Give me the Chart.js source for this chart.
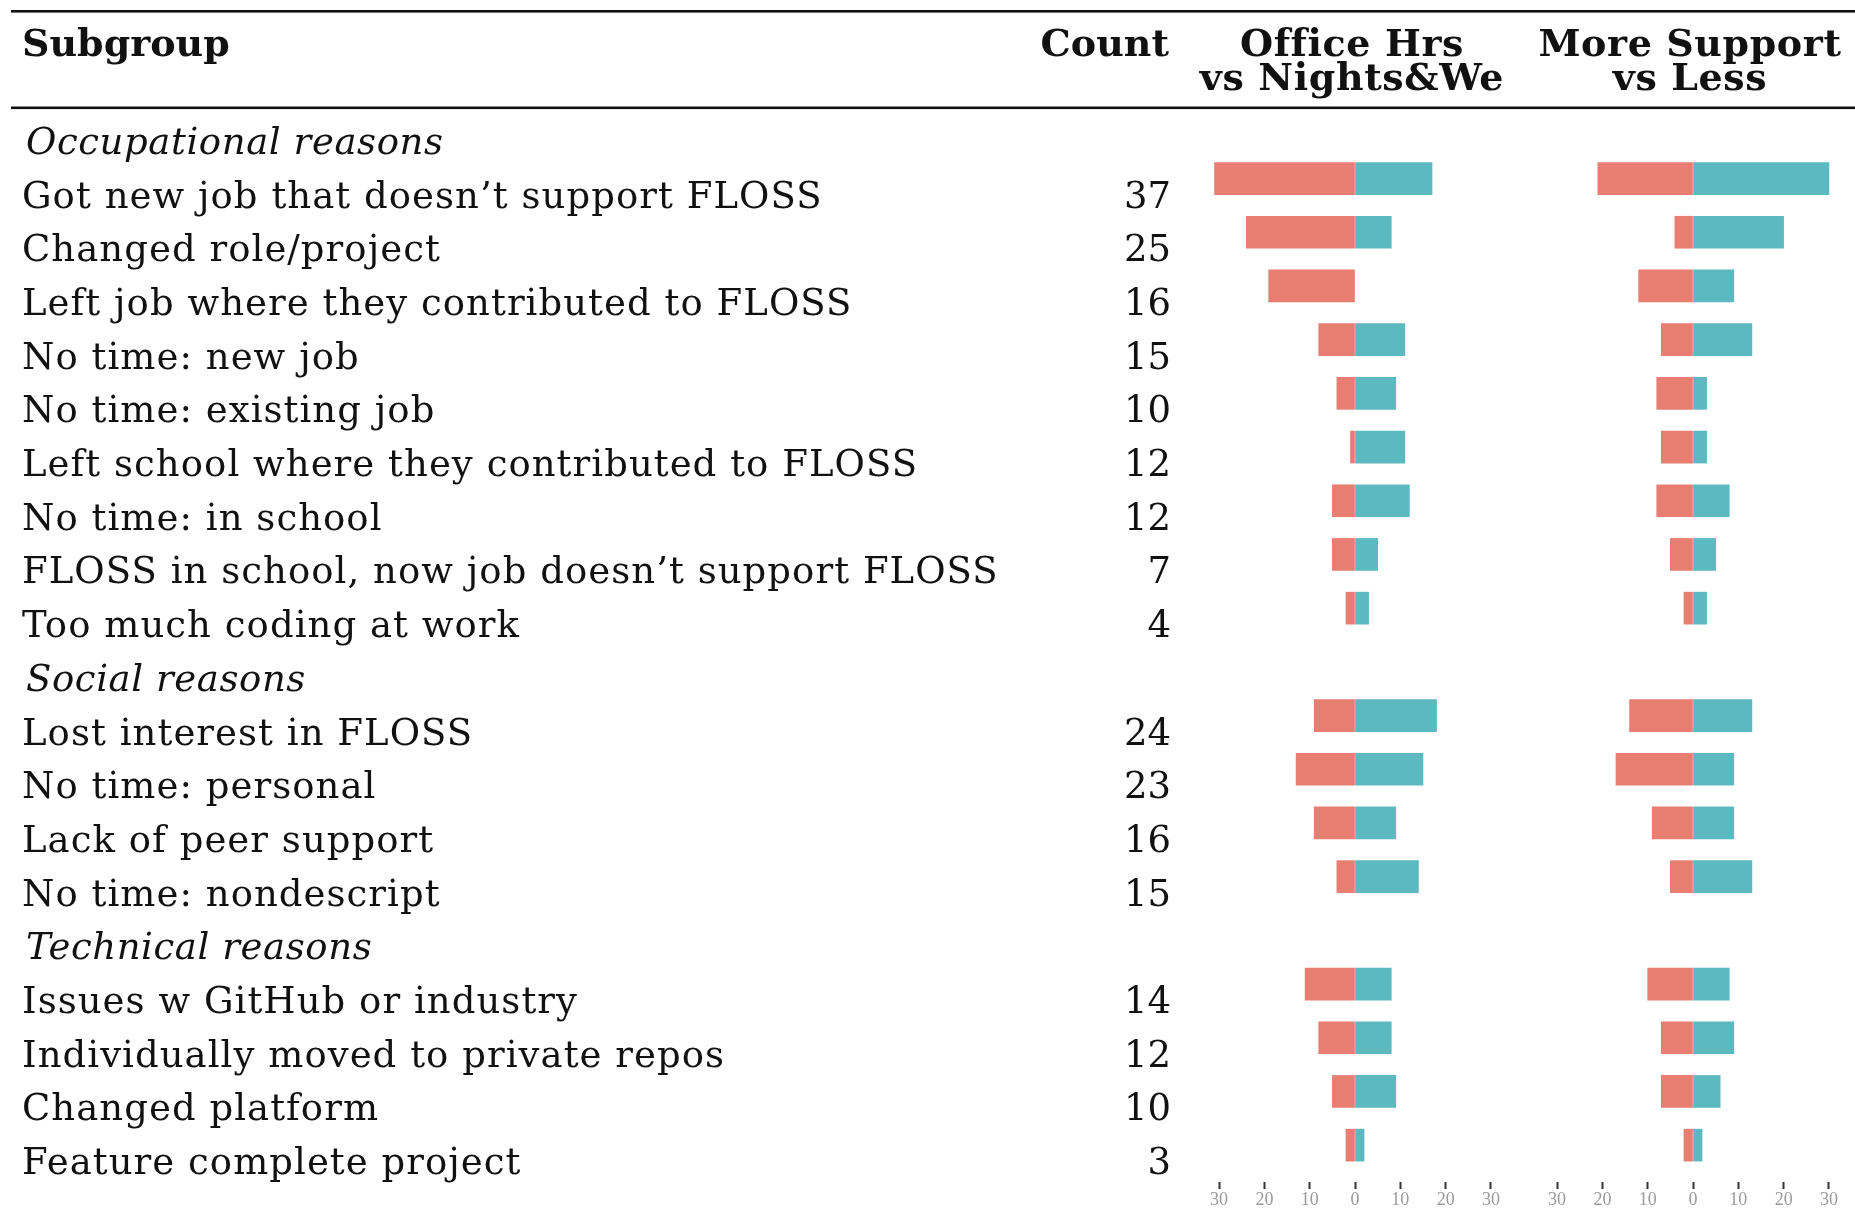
<!DOCTYPE html>
<html>
<head>
<meta charset="utf-8">
<title>Subgroups</title>
<script src="https://cdn.jsdelivr.net/npm/chart.js@4.4.1/dist/chart.umd.min.js"></script>
<style>
  html, body { margin: 0; padding: 0; background: #fff; }
  #page { position: relative; width: 1855px; height: 1223px; overflow: hidden; }
  canvas { position: absolute; top: 0; }
  #tableCanvas { left: 0; }
  #supportCanvas { left: 1530px; }
</style>
</head>
<body>
<div id="page">
  <canvas id="tableCanvas" width="1855" height="1223"></canvas>
  <canvas id="supportCanvas" width="325" height="1223"></canvas>
</div>
<script>
// one row per line of the table; section titles have no bars
const subgroups = [
  'Occupational reasons',
  'Got new job that doesn\u2019t support FLOSS',
  'Changed role/project',
  'Left job where they contributed to FLOSS',
  'No time: new job',
  'No time: existing job',
  'Left school where they contributed to FLOSS',
  'No time: in school',
  'FLOSS in school, now job doesn\u2019t support FLOSS',
  'Too much coding at work',
  'Social reasons',
  'Lost interest in FLOSS',
  'No time: personal',
  'Lack of peer support',
  'No time: nondescript',
  'Technical reasons',
  'Issues w GitHub or industry',
  'Individually moved to private repos',
  'Changed platform',
  'Feature complete project'
];
const sections = ['Occupational reasons', 'Social reasons', 'Technical reasons'];

const counts      = [null, 37, 25, 16, 15, 10, 12, 12, 7, 4, null, 24, 23, 16, 15, null, 14, 12, 10, 3];
const officeHrs   = [null, 31, 24, 19, 8, 4, 1, 5, 5, 2, null, 9, 13, 9, 4, null, 11, 8, 5, 2];
const nightsWe    = [null, 17, 8, 0, 11, 9, 11, 12, 5, 3, null, 18, 15, 9, 14, null, 8, 8, 9, 2];
const moreSupport = [null, 21, 4, 12, 7, 8, 7, 8, 5, 2, null, 14, 17, 9, 5, null, 10, 7, 7, 2];
const lessSupport = [null, 30, 20, 9, 13, 3, 3, 8, 5, 3, null, 13, 9, 9, 13, null, 8, 9, 6, 2];

const xTicks = [-30, -20, -10, 0, 10, 20, 30];

const headers = [
  { lines: ['Office Hrs', 'vs Nights&We'], x: 1352 },
  { lines: ['More Support', 'vs Less'], x: 1690 }
];

const RED = '#e87d72';
const TEAL = '#5cb9bf';
const INK = '#111';
const BODY_FONT = '37px "DejaVu Serif"';

// rules, column headers, subgroup names and counts around the first panel
const tableText = {
  id: 'tableText',
  afterDraw(chart) {
    const ctx = chart.ctx;
    const y = chart.scales.y;
    ctx.save();
    ctx.fillStyle = INK;
    ctx.fillRect(11, 10, 1844, 2.6);
    ctx.fillRect(11, 106.5, 1844, 2.6);

    ctx.textBaseline = 'alphabetic';
    ctx.font = 'bold 38px "DejaVu Serif"';
    ctx.letterSpacing = '0px';
    ctx.textAlign = 'left';
    ctx.fillText('Subgroup', 22, 56);
    ctx.textAlign = 'right';
    ctx.fillText('Count', 1169, 56);
    ctx.textAlign = 'center';
    ctx.letterSpacing = '0.6px';
    headers.forEach(h => {
      h.lines.forEach((line, k) => ctx.fillText(line, h.x, 56 + k * 34));
    });

    subgroups.forEach((label, i) => {
      const base = y.getPixelForValue(i) + 29;
      const isSection = sections.includes(label);
      ctx.font = (isSection ? 'italic ' : '') + BODY_FONT;
      ctx.letterSpacing = isSection ? '0.6px' : '1.05px';
      ctx.textAlign = 'left';
      ctx.fillText(label, isSection ? 26 : 22, base);
      if (counts[i] != null) {
        ctx.font = BODY_FONT;
        ctx.letterSpacing = '0px';
        ctx.textAlign = 'right';
        ctx.fillText(String(counts[i]), 1171, base);
      }
    });
    ctx.restore();
  }
};

function panelChart(canvasId, leftVals, rightVals, padding, plugins) {
  return new Chart(document.getElementById(canvasId), {
    type: 'bar',
    data: {
      labels: subgroups,
      datasets: [
        { data: leftVals.map(v => v == null ? null : -v), backgroundColor: RED, barThickness: 32 },
        { data: rightVals, backgroundColor: TEAL, barThickness: 32 }
      ]
    },
    options: {
      indexAxis: 'y',
      responsive: false,
      animation: false,
      layout: { padding: padding },
      plugins: { legend: { display: false }, tooltip: { enabled: false } },
      scales: {
        y: { stacked: true, display: false },
        x: {
          stacked: true,
          min: -32,
          max: 32,
          afterBuildTicks: s => { s.ticks = xTicks.map(v => ({ value: v })); },
          afterFit: s => { s.height = 51; },
          border: { display: false },
          grid: {
            drawOnChartArea: false,
            tickLength: 17,
            tickWidth: 2,
            tickColor: '#333',
            tickBorderDash: [7, 10],
            tickBorderDashOffset: 7
          },
          ticks: {
            padding: 0,
            color: '#9a9a9a',
            font: { family: '"Liberation Serif"', size: 18 },
            callback: v => Math.abs(v)
          }
        }
      }
    },
    plugins: plugins
  });
}

panelChart('tableCanvas', officeHrs, nightsWe, { left: 1210, right: 355, top: 98, bottom: 0 }, [tableText]);
panelChart('supportCanvas', moreSupport, lessSupport, { left: 18, right: 17, top: 98, bottom: 0 }, []);
</script>
</body>
</html>
